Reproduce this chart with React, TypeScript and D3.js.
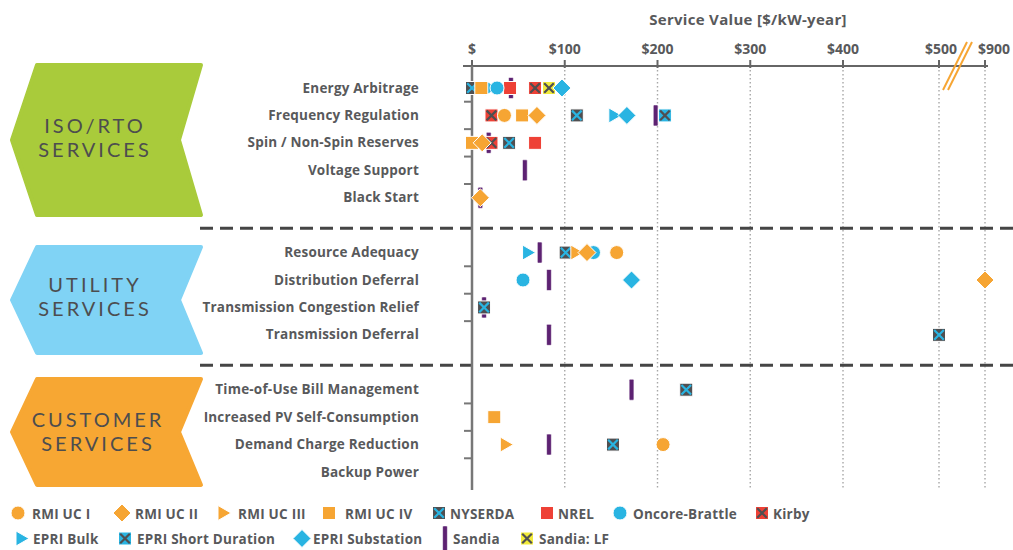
import React from "react";
import * as d3 from "d3";

// ---------- DATA ----------
const services = [
  "Energy Arbitrage",
  "Frequency Regulation",
  "Spin / Non-Spin Reserves",
  "Voltage Support",
  "Black Start",
  "Resource Adequacy",
  "Distribution Deferral",
  "Transmission Congestion Relief",
  "Transmission Deferral",
  "Time-of-Use Bill Management",
  "Increased PV Self-Consumption",
  "Demand Charge Reduction",
  "Backup Power",
];
const groupLabels = [
  ["ISO/RTO", "SERVICES"],
  ["UTILITY", "SERVICES"],
  ["CUSTOMER", "SERVICES"],
];
const groupSizes = [5, 4, 4];
const tickValues = [0, 100, 200, 300, 400, 500, 900];
const tickLabels = ["$", "$100", "$200", "$300", "$400", "$500", "$900"];
const axisTitle = "Service Value [$/kW-year]";

const seriesNames = [
  "RMI UC I", "RMI UC II", "RMI UC III", "RMI UC IV", "NYSERDA", "NREL",
  "Oncore-Brattle", "Kirby", "EPRI Bulk", "EPRI Short Duration",
  "EPRI Substation", "Sandia", "Sandia: LF",
];
// values per service row (null = not assessed), $/kW-year
const _ = null;
const rmiUC1 = [_, 35, _, _, _, 156, _, _, _, _, _, 206, _];
const rmiUC2 = [_, 70, 11, _, 9, 124, 900, _, _, _, _, _, _];
const rmiUC3 = [_, _, _, _, _, 113, _, _, _, _, _, 37, _];
const rmiUC4 = [10, 54, 0, _, _, _, _, _, _, _, 24, _, _];
const nyserda = [0, 113, 40, _, _, 101, _, 13, 500, 231, _, 152, _];
const nrel = [41, _, 68, _, _, _, _, _, _, _, _, _, _];
const oncore = [27, _, _, _, _, 131, 55, _, _, _, _, _, _];
const kirby = [68, 21, 21, _, _, _, _, _, _, _, _, _, _];
const epriBulk = [21, 154, _, _, _, 61, _, _, _, _, _, _, _];
const epriShort = [_, 208, _, _, _, _, _, _, _, _, _, _, _];
const epriSub = [97, 167, _, _, _, _, 172, _, _, _, _, _, _];
const sandia = [42, 198, 18, 57, 9, 73, 83, 13, 83, 172, _, 83, _];
const sandiaLF = [83, _, _, _, _, _, _, _, _, _, _, _, _];

const seriesValues: Record<string, (number | null)[]> = {
  "RMI UC I": rmiUC1,
  "RMI UC II": rmiUC2,
  "RMI UC III": rmiUC3,
  "RMI UC IV": rmiUC4,
  NYSERDA: nyserda,
  NREL: nrel,
  "Oncore-Brattle": oncore,
  Kirby: kirby,
  "EPRI Bulk": epriBulk,
  "EPRI Short Duration": epriShort,
  "EPRI Substation": epriSub,
  Sandia: sandia,
  "Sandia: LF": sandiaLF,
};

// ---------- STYLE ----------
const ORANGE = "#F6A533";
const CYAN = "#29B4E2";
const RED = "#EE4136";
const PURPLE = "#5D2272";
const YELLOW = "#F1EA3A";
const DARK = "#4F4F51";
const TEXT = "#58595B";
const FONT = "'Open Sans', Lato, sans-serif";
const CHEV_FONT = "Lato, 'Open Sans', sans-serif";

type Style = { shape: string; fill: string; mark?: string };
const seriesStyle: Record<string, Style> = {
  "RMI UC I": { shape: "circle", fill: ORANGE },
  "RMI UC II": { shape: "diamond", fill: ORANGE },
  "RMI UC III": { shape: "triangle", fill: ORANGE },
  "RMI UC IV": { shape: "square", fill: ORANGE },
  NYSERDA: { shape: "squareX", fill: DARK, mark: CYAN },
  NREL: { shape: "square", fill: RED },
  "Oncore-Brattle": { shape: "circle", fill: CYAN },
  Kirby: { shape: "squareX", fill: RED, mark: DARK },
  "EPRI Bulk": { shape: "triangle", fill: CYAN },
  "EPRI Short Duration": { shape: "squareX", fill: CYAN, mark: DARK },
  "EPRI Substation": { shape: "diamond", fill: CYAN },
  Sandia: { shape: "bar", fill: PURPLE },
  "Sandia: LF": { shape: "squareX", fill: YELLOW, mark: DARK },
};
const drawOrder = [
  "Sandia", "NYSERDA", "EPRI Short Duration", "Kirby", "NREL", "EPRI Bulk",
  "Oncore-Brattle", "Sandia: LF", "EPRI Substation", "RMI UC IV",
  "RMI UC III", "RMI UC I", "RMI UC II",
];

function Marker({ s, x, y, k = 1 }: { s: Style; x: number; y: number; k?: number }) {
  const w = { stroke: "#fff", strokeWidth: 1 };
  switch (s.shape) {
    case "circle":
      return <circle cx={x} cy={y} r={7 * k} fill={s.fill} {...w} />;
    case "diamond": {
      const h = 9 * k;
      return <path d={`M${x},${y - h}L${x + h},${y}L${x},${y + h}L${x - h},${y}Z`} fill={s.fill} {...w} />;
    }
    case "triangle":
      return <path d={`M${x - 6 * k},${y - 7.5 * k}L${x + 7 * k},${y}L${x - 6 * k},${y + 7.5 * k}Z`} fill={s.fill} {...w} />;
    case "square":
      return <rect x={x - 6.5 * k} y={y - 6.5 * k} width={13 * k} height={13 * k} fill={s.fill} {...w} />;
    case "squareX": {
      const h = 6.5 * k;
      const m = 4.8 * k;
      return (
        <g>
          <rect x={x - h} y={y - h} width={2 * h} height={2 * h} fill={s.fill} {...w} />
          <path d={`M${x - m},${y - m}L${x + m},${y + m}M${x + m},${y - m}L${x - m},${y + m}`} stroke={s.mark} strokeWidth={2.2} />
        </g>
      );
    }
    case "bar":
      return <rect x={x - 2.4} y={y - 10.5 * k} width={4.8} height={21 * k} rx={1} fill={s.fill} stroke="#fff" strokeWidth={0.6} />;
  }
  return null;
}

function chevronPath(top: number, bottom: number) {
  const mid = (top + bottom) / 2;
  const l = 12, lc = 37, r = 201, notch = 179;
  return `M${lc},${top}L${r},${top}L${notch},${mid}L${r},${bottom}L${lc},${bottom}L${l},${mid}Z`;
}

export default function App() {
  const W = 1013, H = 550;
  const x = d3.scaleLinear().domain([0, 400, 500, 900]).range([472, 843, 939, 985]);
  // slot positions: groups separated by one empty slot
  const slots: number[] = [];
  let s = 0;
  groupSizes.forEach((n, gi) => {
    for (let i = 0; i < n; i++) slots.push(s++);
    if (gi < groupSizes.length - 1) s++;
  });
  const totalSlots = s - 1;
  const y = d3.scaleLinear().domain([0, totalSlots]).range([88, 472]);
  const rowY = slots.map((sl) => y(sl));

  // section separators & row ticks
  const separators: number[] = [];
  const rowTicks: number[] = [];
  let idx = 0;
  groupSizes.forEach((n, gi) => {
    for (let i = 0; i < n - 1; i++) rowTicks.push(y(slots[idx + i] + 0.5));
    idx += n;
    if (gi < groupSizes.length - 1) separators.push(y(slots[idx - 1] + 1) + 3);
  });

  const chevrons = [
    { top: 63, bottom: 217, fill: "#A9CB3B", lines: [127.5, 151.5], cx: 95 },
    { top: 245, bottom: 355, fill: "#80D3F5", lines: [287, 311], cx: 95 },
    { top: 377, bottom: 487, fill: "#F7A733", lines: [421.5, 445.5], cx: 98 },
  ];

  const legendLayout = [
    { name: "RMI UC I", ix: 18, tx: 32, row: 0 },
    { name: "RMI UC II", ix: 122, tx: 135, row: 0 },
    { name: "RMI UC III", ix: 224, tx: 238, row: 0 },
    { name: "RMI UC IV", ix: 329, tx: 345, row: 0 },
    { name: "NYSERDA", ix: 439, tx: 450, row: 0 },
    { name: "NREL", ix: 547, tx: 558, row: 0 },
    { name: "Oncore-Brattle", ix: 620, tx: 633, row: 0 },
    { name: "Kirby", ix: 762, tx: 773, row: 0 },
    { name: "EPRI Bulk", ix: 22, tx: 33, row: 1 },
    { name: "EPRI Short Duration", ix: 125, tx: 137, row: 1 },
    { name: "EPRI Substation", ix: 302, tx: 313, row: 1 },
    { name: "Sandia", ix: 445, tx: 453, row: 1 },
    { name: "Sandia: LF", ix: 527, tx: 539, row: 1 },
  ];
  const legendY = [514, 539.5];

  const breakX = (x(500) + x(900)) / 2;

  return (
    <svg width={W} height={H} style={{ position: "absolute", left: 0, top: 0, background: "#fff" }} fontFamily={FONT}>
      {/* chevrons */}
      {chevrons.map((c, i) => (
        <g key={i}>
          <path d={chevronPath(c.top + 2, c.bottom - 2)} fill={c.fill} stroke={c.fill} strokeWidth={4} strokeLinejoin="round" />
          {groupLabels[i].map((t, j) => (
            <text key={j} x={c.cx} y={c.lines[j]} textAnchor="middle" dominantBaseline="middle" fontFamily={CHEV_FONT} fontSize={20} fill="#4D4D4F" letterSpacing={3}>
              {t}
            </text>
          ))}
        </g>
      ))}

      {/* title */}
      <text x={748} y={25} textAnchor="middle" fontSize={15} letterSpacing={0.3} fontWeight={700} fill={TEXT}>{axisTitle}</text>

      {/* dotted gridlines */}
      {tickValues.slice(1).map((v) => (
        <line key={v} x1={x(v)} x2={x(v)} y1={70} y2={490} stroke="#A7A7A7" strokeWidth={1.4} strokeDasharray="1.4 2.6" />
      ))}

      {/* section separators */}
      {separators.map((sy, i) => (
        <line key={i} x1={200} x2={W} y1={sy} y2={sy} stroke="#454545" strokeWidth={3} strokeDasharray="13 7" />
      ))}

      {/* top axis */}
      <line x1={463} x2={988} y1={66} y2={66} stroke="#666" strokeWidth={2} />
      {tickValues.map((v, i) => (
        <g key={v}>
          <line x1={x(v)} x2={x(v)} y1={60} y2={68} stroke="#666" strokeWidth={2} />
          <text x={x(v) + (v === 900 ? 9 : v === 500 ? 2 : 0)} y={54} textAnchor="middle" fontSize={14} fontWeight={700} fill={TEXT}>
            {tickLabels[i]}
          </text>
        </g>
      ))}
      {/* axis break */}
      <line x1={breakX - 19} y1={90} x2={breakX + 5} y2={42} stroke={ORANGE} strokeWidth={2} />
      <line x1={breakX - 14} y1={90} x2={breakX + 10} y2={42} stroke={ORANGE} strokeWidth={2} />

      {/* vertical axis */}
      <line x1={472} x2={472} y1={66} y2={490} stroke="#777" strokeWidth={2.5} />
      {rowTicks.map((ty, i) => (
        <line key={i} x1={464} x2={472} y1={ty} y2={ty} stroke="#777" strokeWidth={2} />
      ))}

      {/* row labels */}
      {services.map((name, i) => (
        <text key={name} x={419} y={rowY[i] + 1} textAnchor="end" dominantBaseline="middle" fontSize={13.5} letterSpacing={0.2} fontWeight={700} fill={TEXT}>
          {name}
        </text>
      ))}

      {/* markers */}
      {drawOrder.map((name) => (
        <g key={name}>
          {seriesValues[name].map((v, i) =>
            v === null ? null : <Marker key={i} s={seriesStyle[name]} x={x(v)} y={rowY[i]} />
          )}
        </g>
      ))}

      {/* legend */}
      {legendLayout.map((l) => (
        <g key={l.name}>
          <Marker s={seriesStyle[l.name]} x={l.ix} y={legendY[l.row] - 1} k={seriesStyle[l.name].shape === "bar" ? 1.2 : 1} />
          <text x={l.tx} y={legendY[l.row] + 1} dominantBaseline="middle" fontSize={13.5} letterSpacing={0.25} fontWeight={700} fill={TEXT}>
            {l.name}
          </text>
        </g>
      ))}
    </svg>
  );
}
